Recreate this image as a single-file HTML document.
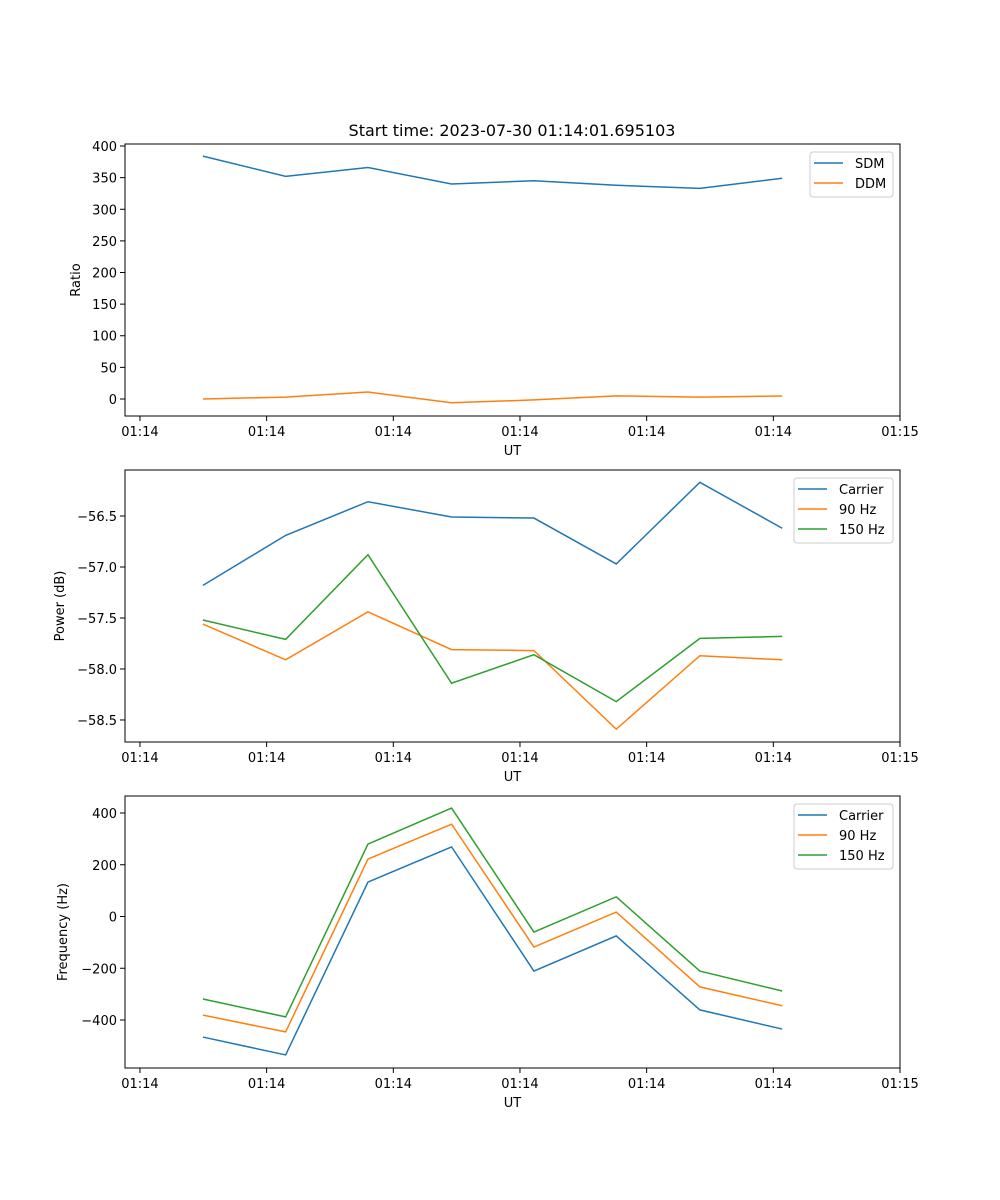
<!DOCTYPE html>
<html><head><meta charset="utf-8">
<style>
body{margin:0;background:#fff}
svg{display:block}
text{font-family:"DejaVu Sans","Liberation Sans",sans-serif;font-size:13px;fill:#000}
</style></head>
<body>
<svg id="fig" width="1000" height="1200" xmlns="http://www.w3.org/2000/svg">
<rect width="1000" height="1200" fill="#fff"/>
<text x="512" y="136" text-anchor="middle" style="font-size:16px">Start time: 2023-07-30 01:14:01.695103</text>
</svg>
<script>
const times = [4.97, 11.5, 18.0, 24.6, 31.1, 37.6, 44.2, 50.7];
const xTicks = [0, 10, 20, 30, 40, 50, 60];
const xTickLabels = ["01:14","01:14","01:14","01:14","01:14","01:14","01:15"];
const sdm = [384, 352, 366, 340, 345, 338, 333, 349];
const ddm = [0, 3, 11, -6, -1.5, 5, 3, 4.7];
const powCarrier = [-57.18, -56.69, -56.36, -56.51, -56.52, -56.97, -56.17, -56.62];
const pow90 = [-57.56, -57.91, -57.44, -57.81, -57.82, -58.59, -57.87, -57.91];
const pow150 = [-57.52, -57.71, -56.88, -58.14, -57.86, -58.32, -57.70, -57.68];
const frqCarrier = [-466, -535, 133, 269, -211, -75, -361, -435];
const frq90 = [-381, -446, 222, 357, -118, 17, -272, -345];
const frq150 = [-319, -388, 280, 419, -60, 76, -211, -288];
const ratioTicks = [0, 50, 100, 150, 200, 250, 300, 350, 400];
const powTicks = [-58.5, -58.0, -57.5, -57.0, -56.5];
const frqTicks = [-400, -200, 0, 200, 400];

const NS = "http://www.w3.org/2000/svg";
const svg = document.getElementById('fig');
const L = 125, R = 900;
const xDom = [-1.18, 60];
const xs = v => L + (v - xDom[0]) / (xDom[1] - xDom[0]) * (R - L);
function mk(tag, attrs, parent) {
  const e = document.createElementNS(NS, tag);
  for (const k in attrs) e.setAttribute(k, attrs[k]);
  (parent || svg).appendChild(e);
  return e;
}
const C = ['#1f77b4', '#ff7f0e', '#2ca02c'];
function panel(name, top, bot, yDom, yTicks, fmt, ylabel, series, legend) {
  const g = mk('g', {});
  
  
  const ys = v => bot - (v - yDom[0]) / (yDom[1] - yDom[0]) * (bot - top);
  series.forEach((s, i) => {
    const p = mk('polyline', {fill: 'none', stroke: C[i], 'stroke-width': 1.5,
      points: s.data.map((v, j) => xs(times[j]) + ',' + ys(v)).join(' ')}, g);
    
    
  });
  mk('rect', {x: L, y: top, width: R - L, height: bot - top, fill: 'none', stroke: '#000', 'stroke-width': 1}, g);
  xTicks.forEach((t, i) => {
    const x = xs(t);
    mk('line', {x1: x, x2: x, y1: bot, y2: bot + 5, stroke: '#000', 'stroke-width': 1}, g);
    const tx = mk('text', {x: x, y: bot + 20, 'text-anchor': 'middle'}, g);
    tx.textContent = xTickLabels[i];
    
    
  });
  const xl = mk('text', {x: (L + R) / 2, y: bot + 39, 'text-anchor': 'middle'}, g);
  xl.textContent = 'UT';
  
  
  yTicks.forEach(t => {
    const y = ys(t);
    mk('line', {x1: L - 5, x2: L, y1: y, y2: y, stroke: '#000', 'stroke-width': 1}, g);
    const tx = mk('text', {x: L - 8, y: y + 5, 'text-anchor': 'end'}, g);
    tx.textContent = fmt(t);
    
    
  });
  const yx = ylabel.x, yy = (top + bot) / 2;
  const yl = mk('text', {x: yx, y: yy, 'text-anchor': 'middle', transform: 'rotate(-90 ' + yx + ' ' + yy + ')'}, g);
  yl.textContent = ylabel.t;
  
  
  const lg = mk('g', {}, g);
  
  
  mk('rect', {x: legend.x, y: top + 8, width: 893 - legend.x, height: 5 + series.length * 20, rx: 3, fill: '#fff', 'fill-opacity': 0.8, stroke: '#ccc', 'stroke-width': 1}, lg);
  series.forEach((s, i) => {
    const y = top + 19 + i * 20;
    mk('line', {x1: legend.x + 4, x2: legend.x + 33, y1: y, y2: y, stroke: C[i], 'stroke-width': 1.5}, lg);
    const tx = mk('text', {x: legend.x + 45, y: y + 5}, lg);
    tx.textContent = s.label;
    
    
  });
}
panel('ratio', 144, 416, [-26.9, 403.2], ratioTicks, v => String(v), {x: 80, t: 'Ratio'},
  [{key: 'sdm', label: 'SDM', data: sdm}, {key: 'ddm', label: 'DDM', data: ddm}], {x: 810});
panel('power', 470, 742, [-58.716, -56.049], powTicks, v => '\u2212' + Math.abs(v).toFixed(1), {x: 64, t: 'Power (dB)'},
  [{key: 'carrier', label: 'Carrier', data: powCarrier}, {key: '90hz', label: '90 Hz', data: pow90}, {key: '150hz', label: '150 Hz', data: pow150}], {x: 794});
panel('frequency', 796, 1068, [-585.5, 465.7], frqTicks, v => v < 0 ? '\u2212' + Math.abs(v) : String(v), {x: 67, t: 'Frequency (Hz)'},
  [{key: 'carrier', label: 'Carrier', data: frqCarrier}, {key: '90hz', label: '90 Hz', data: frq90}, {key: '150hz', label: '150 Hz', data: frq150}], {x: 794});
</script>
</body></html>
